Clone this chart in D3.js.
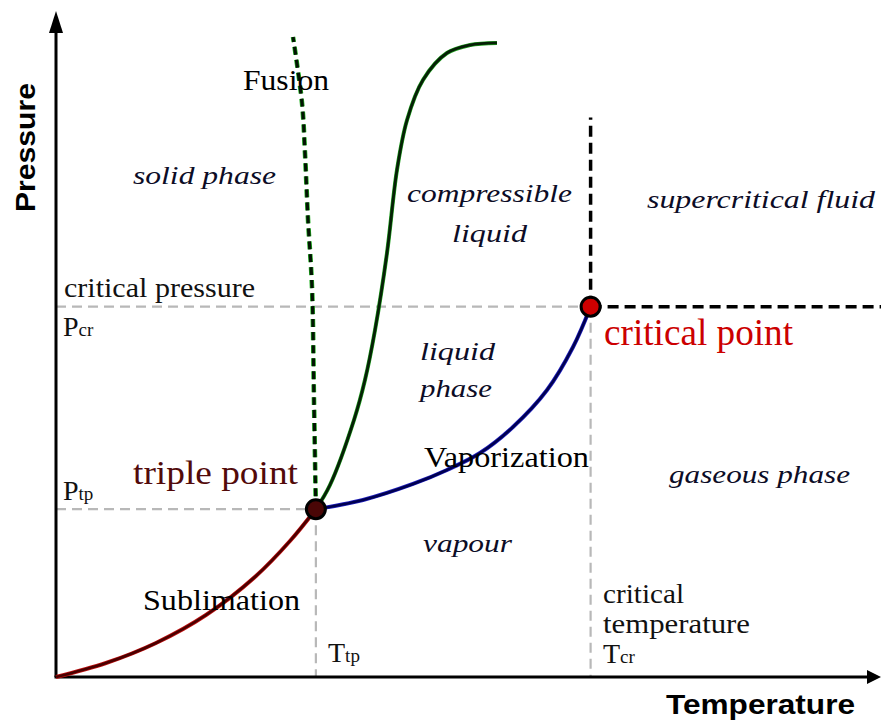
<!DOCTYPE html>
<html>
<head>
<meta charset="utf-8">
<script src="https://cdn.jsdelivr.net/npm/d3@7"></script>
<style>
  html, body { margin: 0; padding: 0; background: #fff; }
  svg { display: block; }
</style>
</head>
<body>
<script>
// ---------- data (abstract units: temperature 0..100, pressure 0..100) ----------
const keyPoints = [
  { name: "triple",   T: 31.5, P: 25.2 },
  { name: "critical", T: 64.8, P: 55.6 }
];
const sublimationCurve = [
  [0, 0], [6.06, 2.10], [12.12, 5.11], [18.18, 9.31], [24.24, 15.17],
  [28.36, 20.42], [31.5, 25.2]
];
const vaporizationCurve = [
  [31.5, 25.2], [37.21, 26.58], [43.27, 28.98], [47.39, 31.08], [51.39, 33.63],
  [55.39, 37.54], [59.52, 43.09], [62.67, 49.55], [64.8, 55.6]
];
const meltingCurve = [
  [31.5, 25.2], [33.21, 28.83], [36.12, 38.59], [37.45, 44.59], [38.67, 52.10],
  [40.12, 63.66], [41.33, 76.13], [42.55, 83.63], [44.48, 89.64], [47.39, 93.69],
  [50.18, 94.89], [53.45, 95.2]
];
const fusionDashedCurve = [
  [31.5, 25.2], [31.27, 41.59], [31.03, 58.56], [30.55, 68.62], [30.18, 78.68],
  [29.82, 86.19], [28.73, 96.1]
];
const supercriticalTopP = 84;
const axisMax = 100;
const axisTitles = ["Temperature", "Pressure"];
const regionLabels = ["solid phase", "compressible", "liquid", "supercritical fluid",
                      "liquid", "phase", "gaseous phase", "vapour"];
const lineLabels = ["Fusion", "Sublimation", "Vaporization"];

// ---------- setup ----------
const W = 882, H = 721;
const svg = d3.select("body").append("svg").attr("width", W).attr("height", H);
const x = d3.scaleLinear().domain([0, 100]).range([56, 881]);
const y = d3.scaleLinear().domain([0, 100]).range([677, 11]);
const triple = keyPoints[0], crit = keyPoints[1];

const line = d3.line().x(d => x(d[0])).y(d => y(d[1])).curve(d3.curveCatmullRom.alpha(0.5));

// ---------- gray reference dashed lines ----------
const grayDash = "10,6";
const refs = [
  [[0, crit.P], [crit.T, crit.P]],
  [[0, triple.P], [triple.T, triple.P]],
  [[triple.T, triple.P], [triple.T, 0]],
  [[crit.T, crit.P], [crit.T, 0]]
];
svg.selectAll(".ref").data(refs).enter().append("path")
  .attr("d", d => d3.line().x(p => x(p[0])).y(p => y(p[1]))(d))
  .attr("stroke", "#b8b8b8").attr("stroke-width", 2.2)
  .attr("stroke-dasharray", grayDash).attr("fill", "none");

// ---------- supercritical black dashed lines ----------
const blackRefs = [
  [[crit.T, crit.P], [crit.T, supercriticalTopP]],
  [[crit.T, crit.P], [axisMax, crit.P]]
];
svg.selectAll(".bref").data(blackRefs).enter().append("path")
  .attr("d", d => d3.line().x(p => x(p[0])).y(p => y(p[1]))(d))
  .attr("stroke", "#000").attr("stroke-width", 3.5)
  .attr("stroke-dasharray", "11,6").attr("fill", "none");

// ---------- axes ----------
const axisG = svg.append("g");
axisG.append("line").attr("x1", x(0)).attr("y1", y(0)).attr("x2", x(0)).attr("y2", y(axisMax) + 12)
  .attr("stroke", "#000").attr("stroke-width", 3);
axisG.append("line").attr("x1", x(0) - 1.5).attr("y1", y(0)).attr("x2", x(axisMax) - 12).attr("y2", y(0))
  .attr("stroke", "#000").attr("stroke-width", 3);
axisG.append("path")
  .attr("d", `M${x(0)},${y(axisMax)} L${x(0) - 7},${y(axisMax) + 22} L${x(0) + 7},${y(axisMax) + 22} Z`)
  .attr("fill", "#000");
axisG.append("path")
  .attr("d", `M${x(axisMax)},${y(0)} L${x(axisMax) - 14},${y(0) - 7} L${x(axisMax) - 14},${y(0) + 7} Z`)
  .attr("fill", "#000");

// ---------- curves (two-tone strokes) ----------
function curve(data, outer, inner, wo, wi, dash) {
  const p1 = svg.append("path").attr("d", line(data)).attr("fill", "none")
    .attr("stroke", outer).attr("stroke-width", wo).attr("stroke-linecap", "butt");
  const p2 = svg.append("path").attr("d", line(data)).attr("fill", "none")
    .attr("stroke", inner).attr("stroke-width", wi).attr("stroke-linecap", "butt");
  if (dash) { p1.attr("stroke-dasharray", dash); p2.attr("stroke-dasharray", dash); }
}
curve(sublimationCurve, "#c01010", "#4a0000", 4, 2.6);
curve(vaporizationCurve, "#2020c0", "#000050", 4, 2.6);
curve(meltingCurve, "#20a020", "#062006", 4, 2.8);
curve(fusionDashedCurve, "#20b020", "#031403", 4.6, 3.2, "8,5");

// ---------- key points ----------
svg.selectAll(".kp").data(keyPoints).enter().append("circle")
  .attr("cx", d => x(d.T)).attr("cy", d => y(d.P)).attr("r", 9.5)
  .attr("fill", d => d.name === "triple" ? "#4a0606" : "#cc0000")
  .attr("stroke", "#000").attr("stroke-width", 3);

// ---------- text ----------
const serif = "'Liberation Serif', 'Times New Roman', serif";
const sans = "'Liberation Sans', Arial, sans-serif";
function txt(s, px, py, size, opts = {}) {
  const t = svg.append("text").attr("x", px).attr("y", py)
    .attr("font-family", opts.family || serif).attr("font-size", size)
    .attr("fill", opts.fill || "#111")
    .attr("font-style", opts.italic ? "italic" : "normal")
    .attr("font-weight", opts.bold ? "bold" : "normal")
    .text(s);
  if (opts.len) t.attr("textLength", opts.len).attr("lengthAdjust", "spacingAndGlyphs");
  return t;
}
function sub(main, subs, px, py, size) {
  const t = svg.append("text").attr("x", px).attr("y", py)
    .attr("font-family", serif).attr("font-size", size).attr("fill", "#111");
  t.append("tspan").text(main);
  t.append("tspan").attr("font-size", size * 0.68).text(subs);
}

// line labels
txt(lineLabels[0], 243, 90, 30, { len: 86, fill: "#000" });
txt(lineLabels[1], 143, 610, 30, { len: 157, fill: "#000" });
txt(lineLabels[2], 424, 467, 30, { len: 165, fill: "#000" });

// axis reference labels
txt("critical pressure", 64, 297, 28, { len: 191 });
sub("P", "cr", 63, 336, 28);
sub("P", "tp", 63, 500, 28);
sub("T", "tp", 328, 662, 28);
txt("critical", 603, 603, 28, { len: 81 });
txt("temperature", 603, 633, 28, { len: 147 });
sub("T", "cr", 603, 663, 28);

// point labels
txt("triple point", 133, 484, 34, { fill: "#520a0a", len: 165 });
txt("critical point", 604, 345, 37, { fill: "#cc0000", len: 189 });

// region labels (italic)
const itc = { italic: true, fill: "#0c0c26" };
txt(regionLabels[0], 133, 184, 26, { ...itc, len: 143 });
txt(regionLabels[1], 407, 202, 26, { ...itc, len: 165 });
txt(regionLabels[2], 452, 242, 26, { ...itc, len: 75 });
txt(regionLabels[3], 647, 208, 26, { ...itc, len: 228 });
txt(regionLabels[4], 420, 360, 26, { ...itc, len: 75 });
txt(regionLabels[5], 420, 397, 26, { ...itc, len: 72 });
txt(regionLabels[6], 669, 483, 26, { ...itc, len: 181 });
txt(regionLabels[7], 423, 552, 26, { ...itc, len: 89 });

// axis titles
txt(axisTitles[0], 666, 714, 27, { family: sans, bold: true, fill: "#000", len: 189 });
svg.append("text")
  .attr("transform", "translate(35,212) rotate(-90)")
  .attr("font-family", sans).attr("font-weight", "bold").attr("font-size", 28)
  .attr("fill", "#000").attr("textLength", 129).attr("lengthAdjust", "spacingAndGlyphs")
  .text(axisTitles[1]);
</script>
</body>
</html>
